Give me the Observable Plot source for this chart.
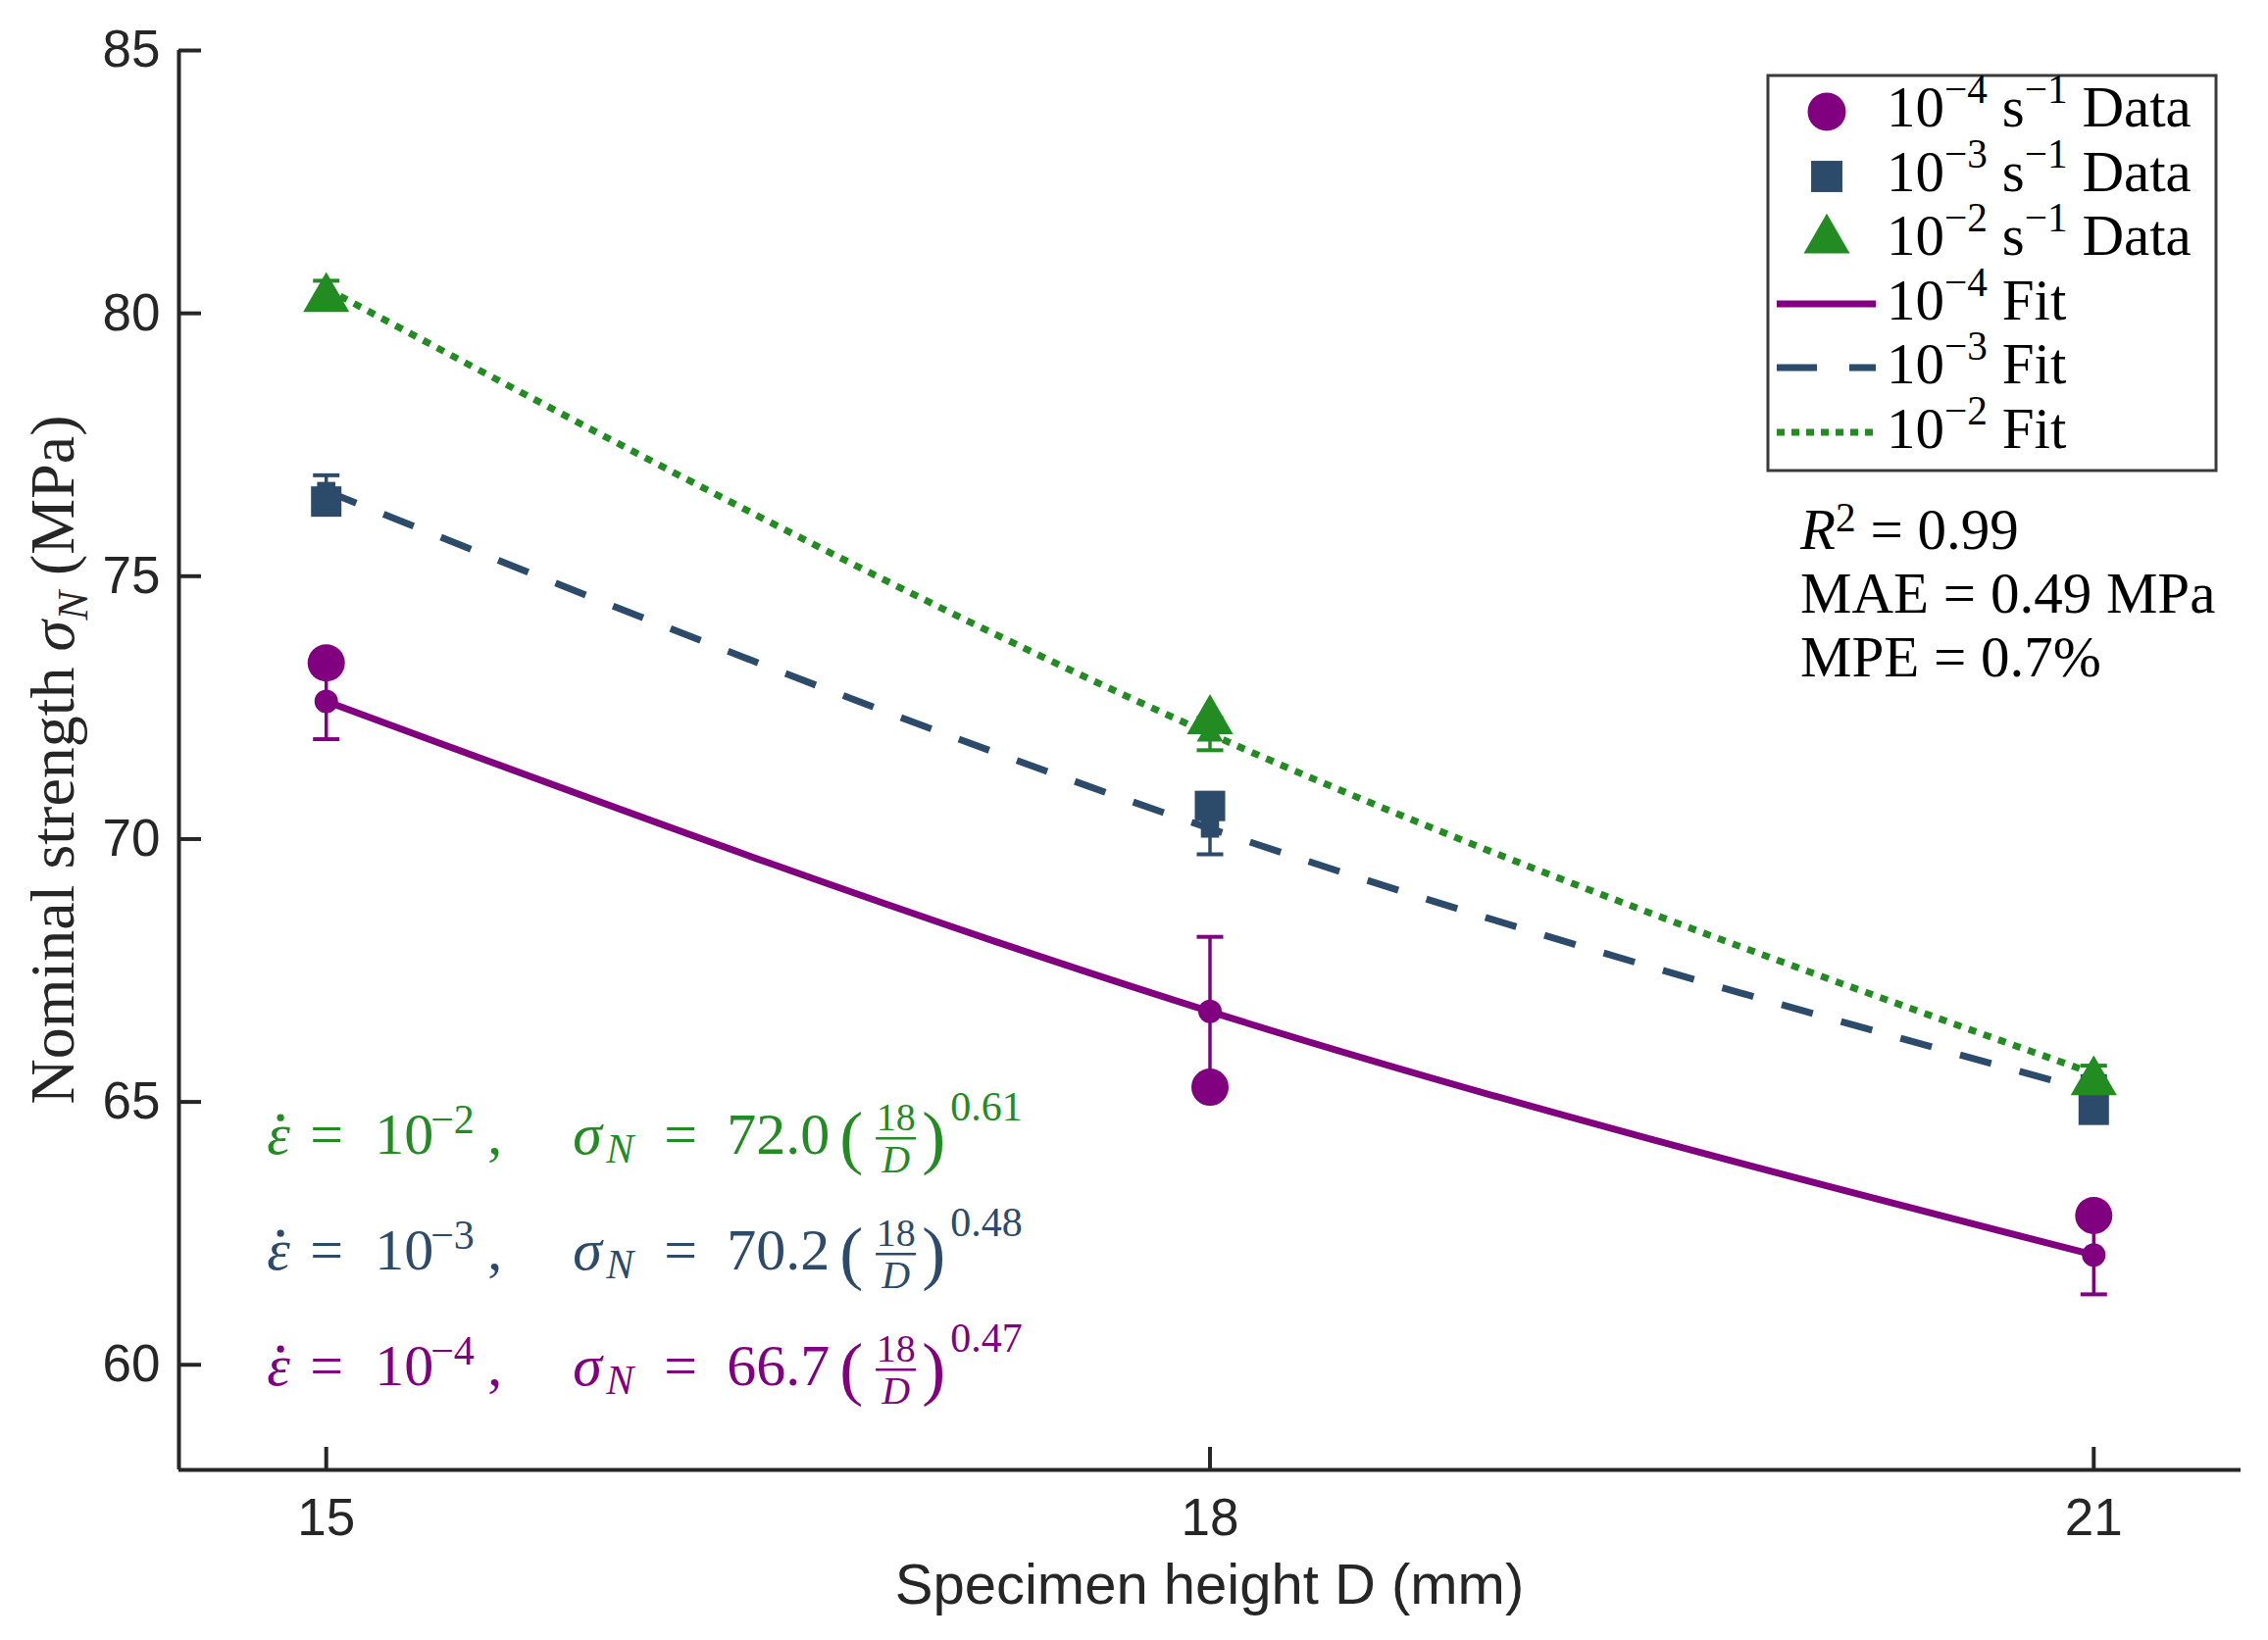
<!DOCTYPE html>
<html>
<head>
<meta charset="utf-8">
<script src="https://cdn.jsdelivr.net/npm/d3@7"></script>
<script src="https://cdn.jsdelivr.net/npm/@observablehq/plot@0.6"></script>
<style>
  html, body { margin: 0; padding: 0; background: #ffffff; }
  #chart svg { display: block; }
</style>
</head>
<body>
<div id="chart"></div>
<script>
// ---------------- data ----------------
const heightsD = [15, 18, 21];
const seriesKeys = ["1e-4", "1e-3", "1e-2"];
// large markers: measured data
const data1e4 = [73.35, 65.28, 62.84];
const data1e3 = [76.42, 70.63, 64.85];
const data1e2 = [80.28, 72.25, 65.38];
// small markers / fit curve values
const fit1e4 = [72.62, 66.72, 62.09];
const fit1e3 = [76.62, 70.20, 65.19];
const fit1e2 = [80.47, 72.00, 65.54];
// error bar half-lengths
const err1e4 = [0.72, 1.42, 0.75];
const err1e3 = [0.30, 0.49, 0.30];
const err1e2 = [0.15, 0.31, 0.15];
const xTicks = [15, 18, 21];
const yTicks = [60, 65, 70, 75, 80, 85];
const xDomain = [14.5, 21.5];
const yDomain = [58, 85];
// equation annotations (top to bottom)
const eqRates = ["−2", "−3", "−4"];
const eqCoefs = ["72.0", "70.2", "66.7"];
const eqExps = ["0.61", "0.48", "0.47"];
// legend
const legendRates = ["−4", "−3", "−2"];
const statLines = ["0.99", "0.49", "0.7%"];

// ---------------- styles ----------------
const PURPLE = "#800080", NAVY = "#2c4a6a", GREEN = "#228b22", AXIS = "#262626";
const SERIF = "'Liberation Serif', 'Times New Roman', serif";
const SANS = "'Liberation Sans', Arial, Helvetica, sans-serif";
const W = 2313, H = 1673, ML = 182, MR = 28, MT = 51, MB = 174, TICK = 23;
const style = {
  "1e-4": {color: PURPLE, symbol: "circle", rBig: 19, rSmall: 12, dash: null},
  "1e-3": {color: NAVY, symbol: "square", rBig: 17.5, rSmall: 10.5, dash: "33,30"},
  "1e-2": {color: GREEN, symbol: "triangle", rBig: 17.5, rSmall: 10, dash: "8,8"}
};
const dataBy = {"1e-4": data1e4, "1e-3": data1e3, "1e-2": data1e2};
const fitBy = {"1e-4": fit1e4, "1e-3": fit1e3, "1e-2": fit1e2};
const errBy = {"1e-4": err1e4, "1e-3": err1e3, "1e-2": err1e2};

const rows = seriesKeys.flatMap(s => heightsD.map((D, i) => ({
  series: s, D, data: dataBy[s][i], fit: fitBy[s][i], err: errBy[s][i]
})));

// scales matching the plot, used to express the inward tick length in data units
const xS = Plot.scale({x: {domain: xDomain, range: [ML, W - MR]}});
const yS = Plot.scale({y: {domain: yDomain, range: [H - MB, MT]}});
const xTickEnd = xS.invert(ML + TICK);
const yTickEnd = yS.invert(H - MB - TICK);

const capSymbol = {
  draw(context, size) {
    const w = Math.sqrt(size / Math.PI);
    context.moveTo(-w, 0);
    context.lineTo(w, 0);
  }
};

const seriesMarks = seriesKeys.flatMap(s => {
  const st = style[s];
  const rs = rows.filter(r => r.series === s);
  return [
    Plot.line(rs, {x: "D", y: "fit", stroke: st.color, strokeWidth: 7, strokeDasharray: st.dash,
      strokeLinecap: "butt", curve: "natural"}),
    Plot.ruleX(rs, {x: "D", y1: d => d.fit - d.err, y2: d => d.fit + d.err, stroke: st.color, strokeWidth: 3.5}),
    Plot.dot(rs, {x: "D", y: d => d.fit - d.err, symbol: capSymbol, r: 13.5, stroke: st.color, fill: "none", strokeWidth: 4}),
    Plot.dot(rs, {x: "D", y: d => d.fit + d.err, symbol: capSymbol, r: 13.5, stroke: st.color, fill: "none", strokeWidth: 4}),
    Plot.dot(rs, {x: "D", y: "fit", symbol: st.symbol, r: st.rSmall, fill: st.color, stroke: "none"}),
    Plot.dot(rs, {x: "D", y: "data", symbol: st.symbol, r: st.rBig, fill: st.color, stroke: "none"})
  ];
});

const plot = Plot.plot({
  width: W,
  height: H,
  marginLeft: ML,
  marginRight: MR,
  marginTop: MT,
  marginBottom: MB,
  x: {domain: xDomain},
  y: {domain: yDomain},
  style: {fontFamily: SANS, fontSize: "53px", color: AXIS, background: "#ffffff"},
  marks: [
    // axis lines
    Plot.ruleY([yDomain[0]], {x1: xDomain[0], x2: xDomain[1], stroke: AXIS, strokeWidth: 4}),
    Plot.ruleX([xDomain[0]], {y1: yDomain[0], y2: yDomain[1], stroke: AXIS, strokeWidth: 4}),
    // inward ticks
    Plot.ruleX(xTicks, {y1: yDomain[0], y2: yTickEnd, stroke: AXIS, strokeWidth: 4}),
    Plot.ruleY(yTicks, {x1: xDomain[0], x2: xTickEnd, stroke: AXIS, strokeWidth: 4}),
    // tick labels
    Plot.axisX({ticks: xTicks, tickSize: 0, tickPadding: 29, label: null, fontSize: 53, color: AXIS, tickFormat: d => String(d)}),
    Plot.axisY({ticks: yTicks, tickSize: 0, tickPadding: 19, label: null, fontSize: 53, color: AXIS, tickFormat: d => String(d)}),
    ...seriesMarks
  ]
});

document.getElementById("chart").appendChild(plot);

// ---------------- annotations ----------------
const svg = d3.select(plot);
const xs = plot.scale("x"), ys = plot.scale("y");
const X = v => xs.apply(v), Y = v => ys.apply(v);

function rich(g, x, y, parts, size, color, anchor = "start") {
  const t = g.append("text").attr("x", x).attr("y", y)
    .attr("font-family", SERIF).attr("font-size", size).attr("fill", color)
    .attr("text-anchor", anchor)
    .style("white-space", "pre");
  let shift = 0;
  for (const p of parts) {
    const target = p.sup ? -(p.shift ?? 0.4) * size : p.sub ? (p.shift ?? 0.2) * size : 0;
    const ts = t.append("tspan").text(p.t).attr("dy", target - shift)
      .attr("font-size", (p.sup || p.sub) ? 0.7 * size : size);
    if (p.it) ts.attr("font-style", "italic");
    shift = target;
  }
  return t;
}
function plain(g, x, y, str, size, color, opts = {}) {
  const t = g.append("text").attr("x", x).attr("y", y).text(str)
    .attr("font-family", opts.family || SERIF).attr("font-size", size).attr("fill", color)
    .attr("text-anchor", opts.anchor || "start")
    .style("white-space", "pre");
  if (opts.italic) t.attr("font-style", "italic");
  return t;
}

const ann = svg.append("g");

// axis labels
plain(ann, (X(xDomain[0]) + X(xDomain[1])) / 2, Y(yDomain[0]) + 137, "Specimen height D (mm)", 58, AXIS,
  {family: SANS, anchor: "middle"});
const yl = ann.append("g").attr("transform", `translate(75, ${(Y(yDomain[0]) + Y(yDomain[1])) / 2}) rotate(-90)`);
rich(yl, 0, 0, [{t: "Nominal strength "}, {t: "σ", it: true}, {t: "N", it: true, sub: true, shift: 0.22}, {t: " (MPa)"}], 64, AXIS, "middle");

// equations
const eqColors = [GREEN, NAVY, PURPLE];
const eqY = [64.0, 61.8, 59.6];
eqRates.forEach((rate, i) => {
  const c = eqColors[i];
  const x0 = X(14.8), b = Y(eqY[i]);
  const g = ann.append("g").attr("fill", c);
  plain(g, x0, b, "ε", 60, c, {italic: true});
  g.append("circle").attr("cx", x0 + 14).attr("cy", b - 37).attr("r", 3.6).attr("fill", c);
  plain(g, x0 + 44, b, "=", 60, c);
  plain(g, x0 + 110, b, "10", 60, c);
  plain(g, x0 + 167, b - 21, rate, 42, c);
  plain(g, x0 + 225, b, ",", 60, c);
  plain(g, x0 + 312, b, "σ", 60, c, {italic: true});
  plain(g, x0 + 346, b + 9, "N", 42, c, {italic: true});
  plain(g, x0 + 405, b, "=", 60, c);
  plain(g, x0 + 469, b, eqCoefs[i], 60, c);
  plain(g, x0 + 584, b + 7, "(", 72, c);
  plain(g, x0 + 641.5, b - 24, "18", 40, c, {anchor: "middle"});
  g.append("line").attr("x1", x0 + 621).attr("x2", x0 + 662).attr("y1", b - 16).attr("y2", b - 16)
    .attr("stroke", c).attr("stroke-width", 2.5);
  plain(g, x0 + 641.5, b + 19, "D", 40, c, {anchor: "middle", italic: true});
  plain(g, x0 + 668, b + 7, ")", 72, c);
  plain(g, x0 + 697, b - 34, eqExps[i], 42, c);
});

// legend
const lg = ann.append("g");
lg.append("rect").attr("x", 1803).attr("y", 77).attr("width", 457).attr("height", 403)
  .attr("fill", "#ffffff").attr("stroke", "#3a3a3a").attr("stroke-width", 3);
const legBase = [129, 195, 260, 326, 391, 457];
const symMap = {circle: d3.symbolCircle, square: d3.symbolSquare, triangle: d3.symbolTriangle};
const legendKeys = ["1e-4", "1e-3", "1e-2"];
const legR = {"1e-4": 19.5, "1e-3": 18, "1e-2": 17.5};
legendKeys.forEach((s, i) => {
  const st = style[s];
  const cy = legBase[i] - 15;
  lg.append("path").attr("transform", `translate(1863, ${cy})`)
    .attr("d", d3.symbol().type(symMap[st.symbol]).size(Math.PI * legR[s] * legR[s])())
    .attr("fill", st.color);
  rich(lg, 1924, legBase[i], [{t: "10"}, {t: legendRates[i], sup: true}, {t: " s"}, {t: "−1", sup: true}, {t: " Data"}], 59, "#000");
});
const legDash = {"1e-4": null, "1e-3": "41,33", "1e-2": "8,7"};
legendKeys.forEach((s, i) => {
  const st = style[s];
  const cy = legBase[i + 3] - 16;
  const ln = lg.append("line").attr("x1", 1812).attr("x2", 1913).attr("y1", cy).attr("y2", cy)
    .attr("stroke", st.color).attr("stroke-width", 7);
  if (legDash[s]) ln.attr("stroke-dasharray", legDash[s]);
  rich(lg, 1924, legBase[i + 3], [{t: "10"}, {t: legendRates[i], sup: true}, {t: " Fit"}], 59, "#000");
});

// fit statistics
rich(ann, 1836, 560, [{t: "R", it: true}, {t: "2", sup: true, shift: 0.3}, {t: " = " + statLines[0]}], 59, "#000");
rich(ann, 1836, 625, [{t: "MAE = " + statLines[1] + " MPa"}], 59, "#000");
rich(ann, 1836, 690, [{t: "MPE = " + statLines[2]}], 59, "#000");
</script>
</body>
</html>
